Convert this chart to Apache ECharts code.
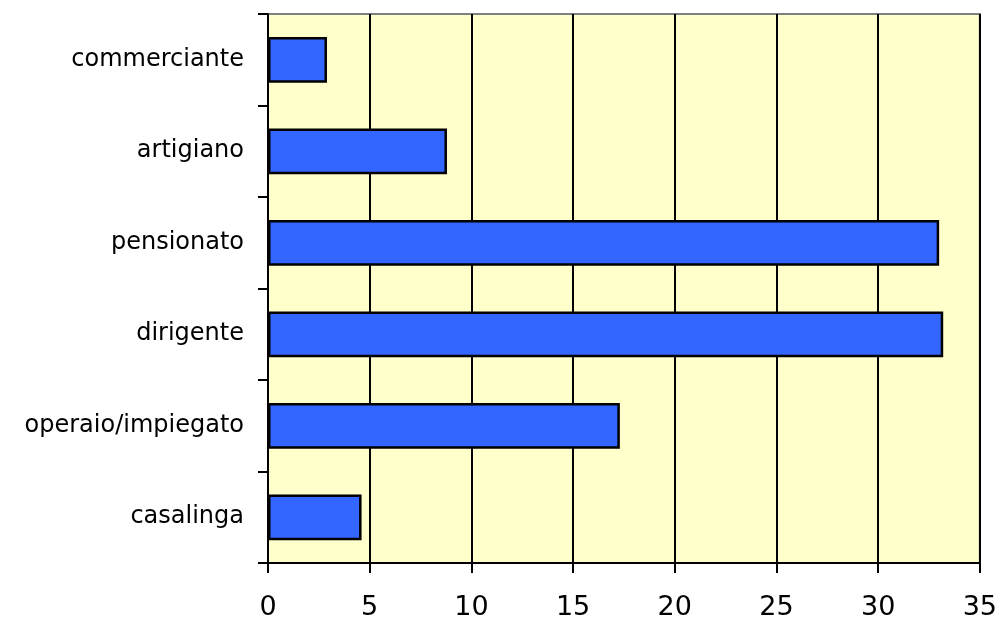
<!DOCTYPE html>
<html>
<head>
<meta charset="utf-8">
<script src="https://cdn.jsdelivr.net/npm/echarts@6/dist/echarts.min.js"></script>
<style>
  html, body { margin: 0; padding: 0; background: #fff; }
  #chart { width: 1000px; height: 621px; }
</style>
</head>
<body>
<div id="chart"></div>
<script>
// categories, top to bottom
var categories = ['commerciante', 'artigiano', 'pensionato', 'dirigente', 'operaio/impiegato', 'casalinga'];
var values = [2.9, 8.8, 33.0, 33.2, 17.3, 4.6];
var xTicks = [0, 5, 10, 15, 20, 25, 30, 35];

var font = '"DejaVu Sans", sans-serif';

var myChart = echarts.init(document.getElementById('chart'));
myChart.setOption({
  animation: false,
  grid: {
    left: 268,
    right: 18,
    top: 14,
    bottom: 58,
    show: true,
    backgroundColor: '#FFFFCC',
    borderColor: '#808080',
    borderWidth: 2
  },
  xAxis: {
    type: 'value',
    min: xTicks[0],
    max: xTicks[xTicks.length - 1],
    interval: 5,
    axisLine: { show: true, lineStyle: { color: '#000', width: 2 } },
    axisTick: { show: true, length: 10, lineStyle: { color: '#000', width: 2 } },
    axisLabel: { color: '#000', fontSize: 27, fontFamily: font, margin: 31 },
    splitLine: { show: true, lineStyle: { color: '#000', width: 2 } }
  },
  yAxis: {
    type: 'category',
    data: categories,
    inverse: true,
    axisLine: { show: true, lineStyle: { color: '#000', width: 2 } },
    axisTick: { show: true, length: 10, lineStyle: { color: '#000', width: 2 } },
    axisLabel: { color: '#000', fontSize: 24, fontFamily: font, margin: 24 },
    splitLine: { show: false }
  },
  series: [{
    type: 'bar',
    data: values,
    barCategoryGap: '50%',
    itemStyle: { color: '#3366FF', borderColor: '#000', borderWidth: 2.5 }
  }]
});
</script>
</body>
</html>
